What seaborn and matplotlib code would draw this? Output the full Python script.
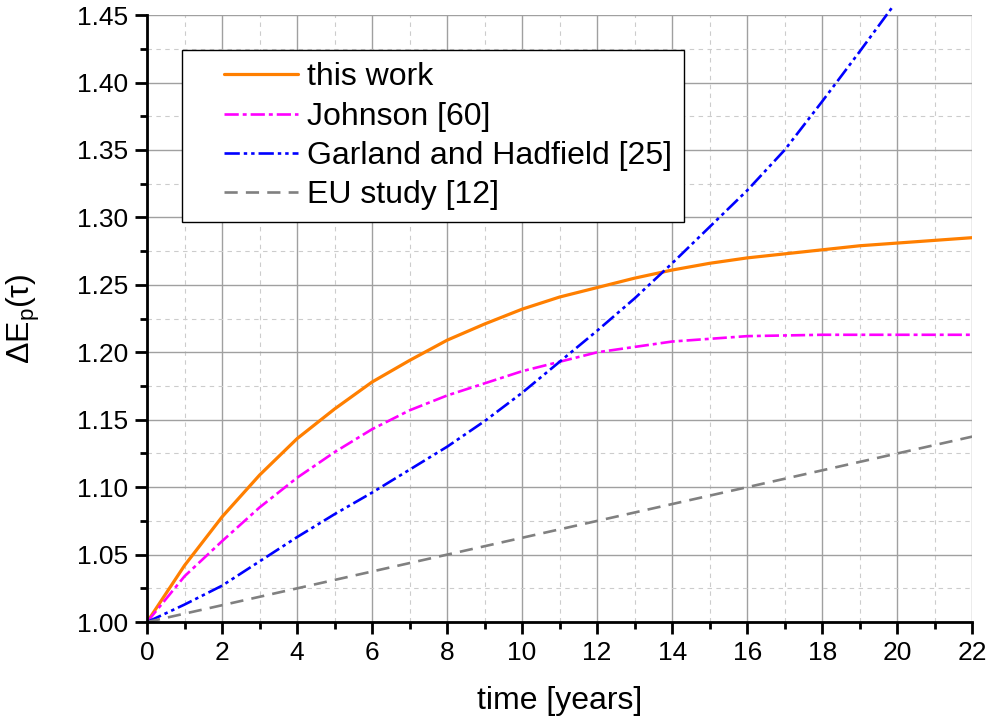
import matplotlib
matplotlib.use('Agg')
import matplotlib.pyplot as plt
import seaborn as sns
from matplotlib.ticker import MultipleLocator, FormatStrFormatter
from matplotlib.legend_handler import HandlerLine2D
from matplotlib.lines import Line2D

# data
years = list(range(0, 23))
this_work = [1.000, 1.042, 1.078, 1.109, 1.136, 1.158, 1.178, 1.194, 1.209, 1.221,
             1.232, 1.241, 1.248, 1.255, 1.261, 1.266, 1.270, 1.273, 1.276, 1.279,
             1.281, 1.283, 1.285]
johnson = [1.000, 1.034, 1.060, 1.085, 1.107, 1.126, 1.143, 1.157, 1.168, 1.177,
           1.186, 1.193, 1.200, 1.204, 1.208, 1.210, 1.212, 1.2125, 1.213, 1.213,
           1.213, 1.213, 1.213]
garland_years = list(range(0, 20)) + [19.9]
garland = [1.000, 1.013, 1.027, 1.045, 1.063, 1.080, 1.096, 1.113, 1.130, 1.149,
           1.170, 1.193, 1.216, 1.240, 1.266, 1.293, 1.320, 1.350, 1.386, 1.423,
           1.457]
eu_years = [0, 22]
eu_study = [1.000, 1.1375]

labels = ['this work', 'Johnson [60]', 'Garland and Hadfield [25]', 'EU study [12]']

sns.set_theme(style='white')
plt.rcParams['font.family'] = ['Liberation Sans', 'DejaVu Sans']
plt.rcParams['mathtext.default'] = 'regular'
plt.rcParams['text.color'] = 'black'
plt.rcParams['axes.labelcolor'] = 'black'
plt.rcParams['xtick.color'] = 'black'
plt.rcParams['ytick.color'] = 'black'

fig, ax = plt.subplots(figsize=(9.87, 7.2), dpi=100)
fig.subplots_adjust(left=0.149, right=0.985, top=0.979, bottom=0.136)

sns.lineplot(x=years, y=this_work, color='#ff7f00', lw=2.3, label=labels[0], ax=ax)
sns.lineplot(x=years, y=johnson, color='#ff00ff', lw=1.9, label=labels[1], ax=ax)
sns.lineplot(x=garland_years, y=garland, color='#0000ff', lw=1.9, label=labels[2], ax=ax)
sns.lineplot(x=eu_years, y=eu_study, color='#808080', lw=1.9, label=labels[3], ax=ax)

lines = ax.get_lines()
lines[1].set_dashes([5.4, 1.5, 1.5, 1.5])
lines[2].set_dashes([5.8, 1.5, 1.3, 1.5, 1.3, 1.5])
lines[3].set_dashes([5, 3.1])
lines[2].set_clip_on(False)

ax.set_xlim(0, 22)
ax.set_ylim(1.0, 1.45)
ax.xaxis.set_major_locator(MultipleLocator(2))
ax.xaxis.set_minor_locator(MultipleLocator(1))
ax.yaxis.set_major_locator(MultipleLocator(0.05))
ax.yaxis.set_minor_locator(MultipleLocator(0.025))
ax.yaxis.set_major_formatter(FormatStrFormatter('%.2f'))

ax.set_axisbelow(True)
ax.grid(which='major', color='#a0a0a0', lw=1.0, ls='-')
ax.grid(which='minor', color='#cccccc', lw=0.8, ls=(0, (4, 4)))

for s in ['top', 'right']:
    ax.spines[s].set_visible(False)
for s in ['left', 'bottom']:
    ax.spines[s].set_linewidth(2.0)
    ax.spines[s].set_color('black')

ax.tick_params(which='major', direction='out', length=8.5, width=2, labelsize=19,
               pad=5, color='black', labelcolor='black', left=True, bottom=True)
ax.tick_params(which='minor', direction='out', length=5, width=2, color='black',
               left=True, bottom=True)

ax.set_xlabel('time [years]', fontsize=23, labelpad=15)
ax.set_ylabel('ΔE$_\\mathregular{p}$(τ)', fontsize=23, labelpad=25)

leg = ax.legend(loc='upper left', bbox_to_anchor=(0.0424, 0.942), borderaxespad=0,
                fontsize=23, frameon=True, fancybox=False, edgecolor='black',
                framealpha=1, handlelength=3.25, handletextpad=0.28, borderpad=0.38,
                labelspacing=0.29, handler_map={Line2D: HandlerLine2D(xpad=0.94)})
leg.get_frame().set_linewidth(1.0)
for t in leg.get_texts():
    t.set_color('black')

fig.savefig('out.png', dpi=100)
